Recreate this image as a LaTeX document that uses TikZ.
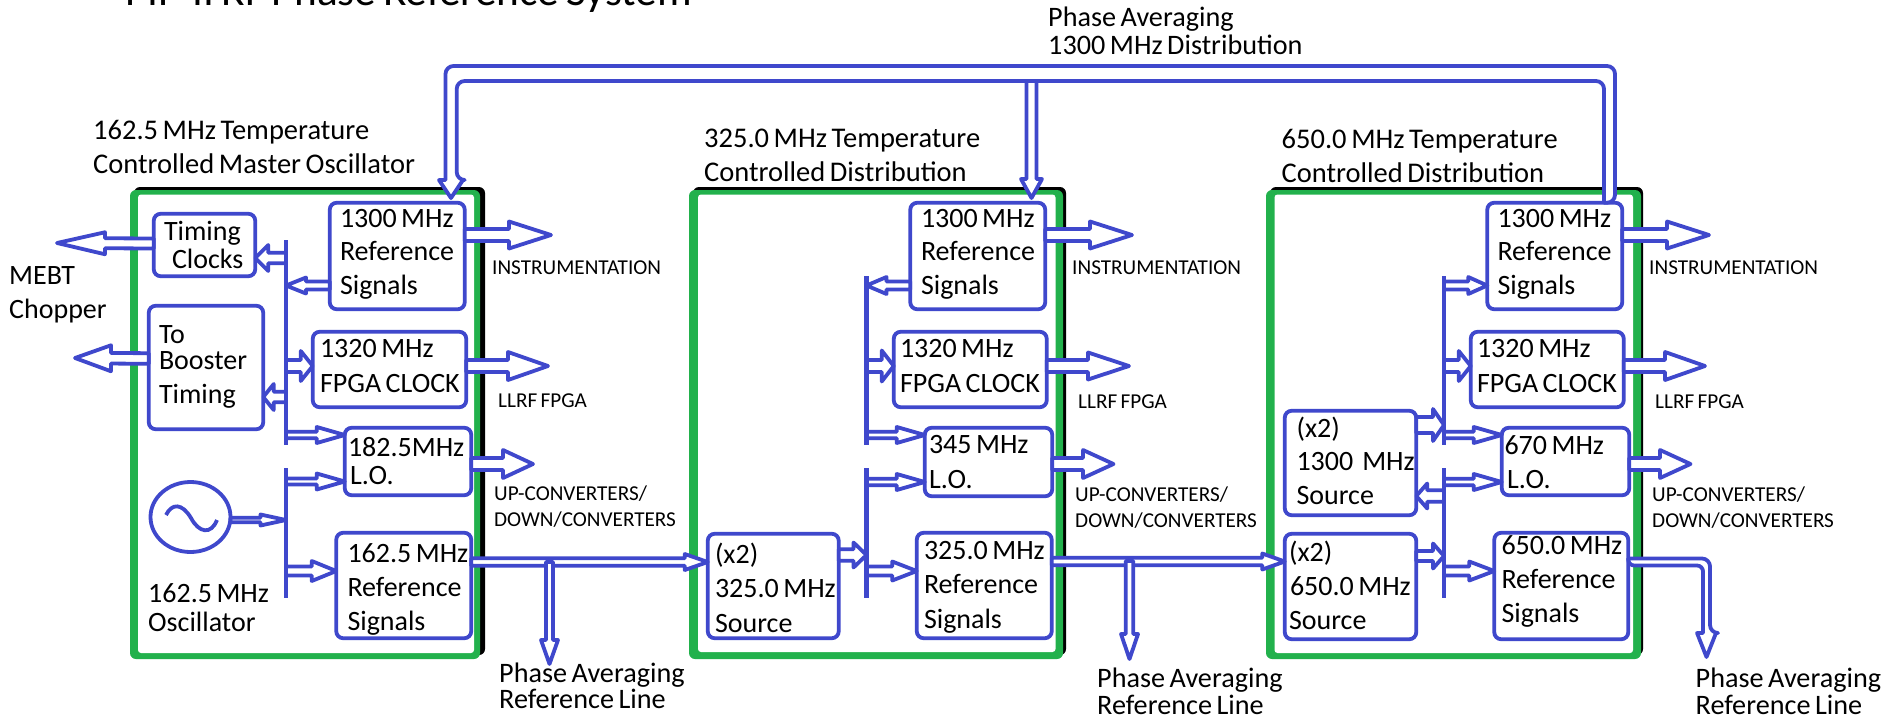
\documentclass[tikz,border=0pt]{standalone}
\usepackage{fontspec}
\setmainfont{Carlito}
\usetikzlibrary{calc,shapes.geometric}
\definecolor{lineblue}{HTML}{3F48CC}
\definecolor{framegreen}{HTML}{22B14C}
\newcommand\ft[2]{\fontsize{#1}{#2}\selectfont}
\tikzset{
  ba/.style n args={3}{draw=lineblue,fill=white,line width=3.8pt,line join=round,
    to path={
      -- ($(\tikztostart)!#3pt!90:(\tikztotarget)$)
      -- ($($(\tikztotarget)!#1pt!(\tikztostart)$)!#3pt!90:(\tikztotarget)$)
      -- ($($(\tikztotarget)!#1pt!(\tikztostart)$)!#2pt!90:(\tikztotarget)$)
      -- (\tikztotarget)
      -- ($($(\tikztotarget)!#1pt!(\tikztostart)$)!#2pt!-90:(\tikztotarget)$)
      -- ($($(\tikztotarget)!#1pt!(\tikztostart)$)!#3pt!-90:(\tikztotarget)$)
      -- ($(\tikztostart)!#3pt!-90:(\tikztotarget)$)
      -- cycle}},
  bus/.style={draw=lineblue,fill=white,line width=3.8pt,line join=round},
  tight/.style={execute at begin node={\spaceskip=.16em\xspaceskip=.16em\relax}},
  blkbox/.style={tight,draw=lineblue,fill=white,line width=3.8pt,rounded corners=7pt,
    inner sep=0pt,outer sep=0pt,anchor=north west,align=left,text=black},
  bar/.style={draw=lineblue,line width=4.5pt},
  lbl/.style={tight,inner sep=0pt,anchor=base west,align=left,text width=800pt,text=black},
  tx/.style 2 args={font=\ft{#1}{#2}},
  wave/.style={draw=lineblue,line width=3.8pt},
  osc/.style={ellipse,draw=lineblue,fill=white,line width=3.8pt,inner sep=0pt,outer sep=0pt,
    minimum width=80pt,minimum height=70pt}
}
\newcommand\I[1]{\hspace*{\dimexpr#1pt-1.75pt\relax}}
\newcommand\blk[8]{%
  \pgfmathsetmacro\bw{#4-#2-3.5}%
  \pgfmathsetmacro\bht{#6-#3-1.75}%
  \pgfmathsetmacro\bdp{#5-#6-1.75}%
  \node[blkbox,text width=\bw pt,text height=\bht pt,text depth=\bdp pt,
        font=\ft{28}{#7}] (#1) at (#2+1.75,#3+1.75) {#8};}
\newcommand\frm[3]{% black, green, inner white rectangles
  \fill[black,rounded corners=6pt] #1;
  \fill[framegreen,rounded corners=6pt] #2;
  \fill[white,rounded corners=3pt] #3;}
\begin{document}
\begin{tikzpicture}[x=1pt,y=-1pt]
\useasboundingbox (0,0) rectangle (1895,718);
\clip (0,0) rectangle (1895,718);
\fill[white] (0,0) rectangle (1895,718);

\node[lbl,tx={43.3}{50}] (title) at (125,5) {PIP-II RF Phase Reference System};

% temperature controlled frames
\frm{(134,187) rectangle (485,655)}{(130,190) rectangle (480,659)}{(138,194.5) rectangle (474,653)}
\frm{(693,187) rectangle (1066,655)}{(689,190) rectangle (1063,659)}{(698,194.5) rectangle (1055.5,652)}
\frm{(1270,187) rectangle (1643,655)}{(1266,190) rectangle (1641,659)}{(1274.5,194.5) rectangle (1633,653)}

% frame titles
\node[lbl,tx={28.5}{34}] (t1) at (93,139) {162.5 MHz Temperature\\Controlled Master Oscillator};
\node[lbl,tx={28.5}{34}] (t2) at (704,147) {325.0 MHz Temperature\\Controlled Distribution};
\node[lbl,tx={28.5}{34}] (t3) at (1281.5,148) {650.0 MHz Temperature\\Controlled Distribution};
\node[lbl,tx={28.2}{28}] (pad) at (1048,26) {Phase Averaging\\1300 MHz Distribution};

% block 1
\blk{tc}{152}{212}{257}{278}{240}{28}{\I{12}Timing\\\I{20}Clocks}
\blk{ra}{328}{201}{466.5}{311}{227}{33.5}{\I{12}1300~MHz\\\I{12}Reference\\\I{12}Signals}
\blk{fa}{311}{330}{468}{409}{357}{35}{\I{9}1320~MHz\\\I{9}FPGA~CLOCK}
\blk{tb}{147}{304}{265}{431}{343}{34}{\I{12}To\\[-8pt]\I{12}Booster\\\I{12}Timing}
\blk{la}{343}{426}{473}{497}{456}{28}{\I{5}182.5MHz\\\I{7}L.O.}
\blk{sa}{334.5}{531}{473}{640}{562}{34}{\I{13}162.5~MHz\\\I{13}Reference\\\I{13}Signals}
\node[osc] (os) at (190.5,517) {};
\draw[wave] (166,515) .. controls (172,503) and (182,503) .. (191,518) .. controls (199,533) and (211,535) .. (217,520);
\node[lbl,tx={28}{34}] (mebt) at (9,284) {MEBT\\Chopper};
\node[lbl,tx={28}{29}] (osl) at (148,602) {162.5 MHz\\Oscillator};

% block 2
\blk{rb}{908.5}{201}{1047}{311}{227}{33.5}{\I{12.5}1300~MHz\\\I{12.5}Reference\\\I{12.5}Signals}
\blk{fb}{892}{330}{1048.5}{409}{357}{35}{\I{8}1320~MHz\\\I{8}FPGA~CLOCK}
\blk{lb}{923}{426}{1054}{498}{453}{35}{\I{6}345~MHz\\\I{6}L.O.}
\blk{sb}{915}{531}{1053.5}{640}{559}{34.5}{\I{9}325.0~MHz\\\I{9}Reference\\\I{9}Signals}
\blk{xb}{706}{532}{840.5}{640}{563}{34.5}{\I{9}(x2)\\\I{9}325.0~MHz\\\I{9}Source}

% block 3
\blk{rc}{1485.5}{201}{1624}{311}{227}{33.5}{\I{12}1300~MHz\\\I{12}Reference\\\I{12}Signals}
\blk{fc}{1469}{330}{1625.5}{409}{357}{35}{\I{8}1320~MHz\\\I{8}FPGA~CLOCK}
\blk{lc}{1500}{426}{1631}{497}{454}{34}{\I{4.5}670~MHz\\\I{7}L.O.}
\blk{sc}{1492.5}{531}{1630}{641}{554}{34}{\I{9}650.0~MHz\\\I{9}Reference\\\I{9}Signals}
\blk{yc}{1283}{409}{1418}{517}{437}{33.5}{\I{13.5}(x2)\\\I{13.5}1300~~MHz\\\I{13.5}Source}
\blk{xc}{1283}{532}{1418}{641}{561}{34}{\I{6}(x2)\\\I{7}650.0~MHz\\\I{6}Source}

% distribution and bar end points
\coordinate (b1a) at (286,240); \coordinate (b1b) at (286,445);
\coordinate (b1c) at (286,468); \coordinate (b1d) at (286,598);
\coordinate (b2a) at (866.5,276); \coordinate (b2b) at (866.5,445);
\coordinate (b2c) at (866.5,468); \coordinate (b2d) at (866.5,598);
\coordinate (b3a) at (1444,276); \coordinate (b3b) at (1444,445);
\coordinate (b3c) at (1444,468); \coordinate (b3d) at (1444,598);

% free arrow ends
\coordinate (eMebt) at (57,243); \coordinate (eBoost) at (75,358);
\coordinate (e1i) at (551,235); \coordinate (e1l) at (548,366); \coordinate (e1u) at (533,464);
\coordinate (e2i) at (1132,235); \coordinate (e2l) at (1129,366); \coordinate (e2u) at (1113.5,464);
\coordinate (e3i) at (1709,235); \coordinate (e3l) at (1705,366); \coordinate (e3u) at (1690.5,464);
\coordinate (d1a) at (549.5,562); \coordinate (d1b) at (549.5,664);
\coordinate (d2a) at (1129.5,561); \coordinate (d2b) at (1129.5,659);

% 1300 MHz distribution
\coordinate (busA) at (445.5,66); \coordinate (busB) at (1615,66);
\coordinate (busC) at (456.7,81); \coordinate (busD) at (1604,81);
\draw[bus] (rc.north -| busD) [rounded corners=8pt] -- (busD) -- (busC) -- (456.7,180)
  [sharp corners] -- (463,180) -- (451,198) -- (439,180) -- (445.5,180)
  [rounded corners=8pt] -- (busA) -- (busB) -- (rc.north -| busB) [sharp corners] -- cycle;
\coordinate (busM) at (1031.5,81); \coordinate (busT) at (1031.5,198);
\draw[ba={19}{10.5}{5}] (busM) to (busT);

% block 1 arrows
\draw[ba={48}{11}{5}] (tc.west |- 0,243.5) to (eMebt);
\draw[ba={13}{13}{5.3}] (b1a |- 0,258) to (tc.east |- 0,258);
\draw[ba={20}{8}{4}] (ra.west |- 0,285.5) to (b1a |- 0,285.5);
\draw[ba={42}{13.5}{6}] (ra.east |- 0,235) to (e1i);
\draw[ba={40}{14}{6}] (fa.east |- 0,366) to (e1l);
\draw[ba={12}{15}{6}] (b1a |- 0,366) to (fa.west |- 0,366);
\draw[ba={10.5}{13}{5.3}] (b1a |- 0,397) to (tb.east |- 0,397);
\draw[ba={36}{13}{5.3}] (tb.west |- 0,358.5) to (eBoost);
\draw[ba={28}{8}{3.2}] (b1a |- 0,435) to (la.west |- 0,435);
\draw[ba={30}{14}{6}] (la.east |- 0,464) to (e1u);
\draw[ba={28}{8}{3}] (b1c |- 0,481.5) to (la.west |- 0,481.5);
\draw[ba={25.5}{5.5}{2.3}] (os.east |- 0,520) to (b1c |- 0,520);
\draw[ba={24.5}{10}{4.5}] (b1c |- 0,571) to (sa.west |- 0,571);
\draw[ba={23}{8}{3.7}] (sa.east |- 0,562) to (xb.west |- 0,562);
\draw[ba={24}{8.5}{3.5}] (d1a) to (d1b);

% block 2 arrows
\draw[ba={20}{8.5}{4}] (rb.west |- 0,285.5) to (b2a |- 0,285.5);
\draw[ba={42}{13.5}{6}] (rb.east |- 0,235) to (e2i);
\draw[ba={12}{15.5}{6}] (b2a |- 0,366) to (fb.west |- 0,366);
\draw[ba={41}{13.5}{6}] (fb.east |- 0,366) to (e2l);
\draw[ba={28}{8}{3.2}] (b2a |- 0,435) to (lb.west |- 0,435);
\draw[ba={30.5}{14}{6}] (lb.east |- 0,464) to (e2u);
\draw[ba={28}{8}{3.2}] (b2c |- 0,482) to (lb.west |- 0,482);
\draw[ba={13}{12.5}{5.8}] (xb.east |- 0,555) to (b2c |- 0,555);
\draw[ba={24.5}{9.5}{4.5}] (b2c |- 0,571) to (sb.west |- 0,571);
\draw[ba={22.5}{8}{3.7}] (sb.east |- 0,561.5) to (xc.west |- 0,561.5);
\draw[ba={25}{8.5}{3.7}] (d2a) to (d2b);

% block 3 arrows
\draw[ba={19}{8.5}{4}] (b3a |- 0,285.5) to (rc.west |- 0,285.5);
\draw[ba={42}{13.5}{6}] (rc.east |- 0,235) to (e3i);
\draw[ba={12}{15}{6}] (b3a |- 0,366) to (fc.west |- 0,366);
\draw[ba={40}{14}{6}] (fc.east |- 0,366) to (e3l);
\draw[ba={11}{16}{8}] (yc.east |- 0,425) to (b3a |- 0,425);
\draw[ba={28}{8}{3.2}] (b3a |- 0,435) to (lc.west |- 0,435);
\draw[ba={30.5}{14}{6}] (lc.east |- 0,464) to (e3u);
\draw[ba={28}{8}{3.2}] (b3c |- 0,482) to (lc.west |- 0,482);
\draw[ba={11}{12.5}{5.8}] (b3c |- 0,496) to (yc.east |- 0,496);
\draw[ba={11}{12.5}{5}] (xc.east |- 0,556) to (b3c |- 0,556);
\draw[ba={25}{9.5}{4.5}] (b3c |- 0,571) to (sc.west |- 0,571);
\coordinate (e3e) at (1706.5,657);
\draw[bus] (sc.east |- 0,558.5) [rounded corners=8pt] -- (1710,558.5) -- (1710,633) [sharp corners]
  -- (1716,633) -- (e3e) -- (1697,633) -- (1703,633)
  [rounded corners=6pt] -- (1703,565.5) -- (sc.east |- 0,565.5) [sharp corners] -- cycle;

% bars
\draw[bar] (b1a) -- (b1b);  \draw[bar] (b1c) -- (b1d);
\draw[bar] (b2a) -- (b2b);  \draw[bar] (b2c) -- (b2d);
\draw[bar] (b3a) -- (b3b);  \draw[bar] (b3c) -- (b3d);

% small labels
\node[lbl,tx={21.2}{26}] (i1) at (492,274) {INSTRUMENTATION};
\node[lbl,tx={21.2}{26}] (i2) at (1072,274) {INSTRUMENTATION};
\node[lbl,tx={21.2}{26}] (i3) at (1649,274) {INSTRUMENTATION};
\node[lbl,tx={21.2}{26}] (l1) at (498,407) {LLRF FPGA};
\node[lbl,tx={21.2}{26}] (l2) at (1078,408) {LLRF FPGA};
\node[lbl,tx={21.2}{26}] (l3) at (1655,408) {LLRF FPGA};
\node[lbl,tx={21.2}{26}] (u1) at (494,500) {UP-CONVERTERS/\\DOWN/CONVERTERS};
\node[lbl,tx={21.2}{26}] (u2) at (1075,501) {UP-CONVERTERS/\\DOWN/CONVERTERS};
\node[lbl,tx={21.2}{26}] (u3) at (1652,501) {UP-CONVERTERS/\\DOWN/CONVERTERS};
\node[lbl,tx={28.2}{26.5}] (p1) at (499,682) {Phase Averaging\\Reference Line};
\node[lbl,tx={28.2}{27}] (p2) at (1097,687) {Phase Averaging\\Reference Line};
\node[lbl,tx={28.2}{27}] (p3) at (1695.5,687) {Phase Averaging\\Reference Line};
\end{tikzpicture}
\end{document}
